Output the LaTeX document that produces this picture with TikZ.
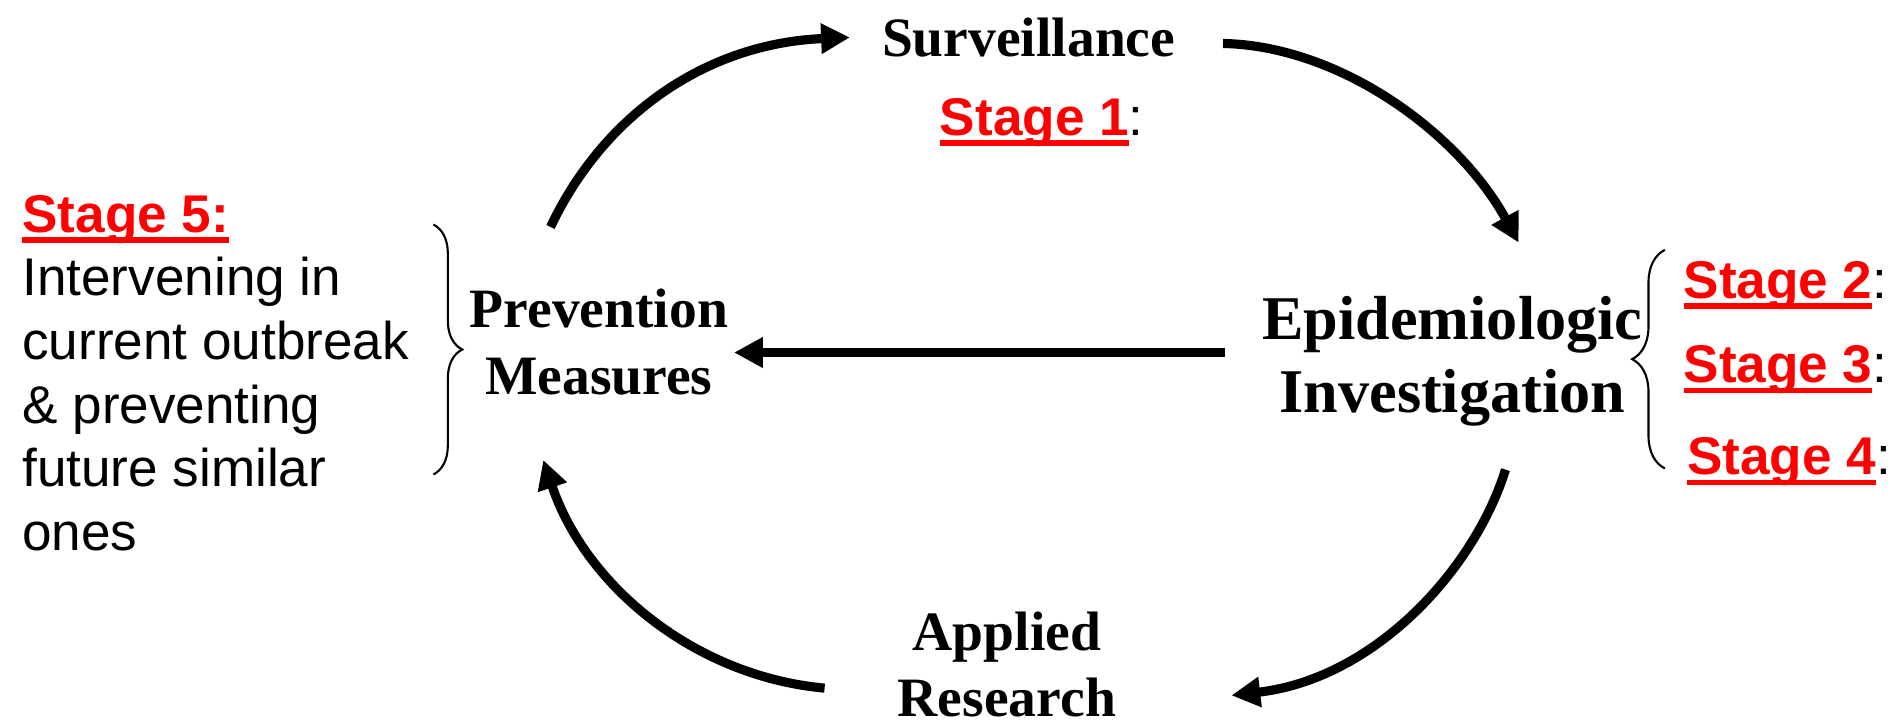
\documentclass[tikz,border=0pt]{standalone}
\usepackage{fontspec}
\setmainfont{Liberation Serif}
\setsansfont{Liberation Sans}
\usetikzlibrary{arrows.meta,decorations.pathreplacing}
\newcommand{\stage}[1]{{\color{red}\bfseries\setbox0\hbox{#1}\rlap{\rule[-3pt]{\wd0}{1.5pt}}\box0}}
\tikzset{
  phase/.style={font=\bfseries\fontsize{15.8}{19}\selectfont, align=center, inner sep=0pt},
  bigphase/.style={phase, font=\bfseries\fontsize{17.7}{20.6}\selectfont},
  note/.style={font=\sffamily\fontsize{15.1}{18.1}\selectfont, align=left, inner sep=0pt},
  cycle/.style={line width=2.6pt, -{Triangle[length=8.2pt,width=8.2pt]}},
  curly/.style={decorate, decoration={brace, amplitude=#1}, line width=0.6pt}
}
\begin{document}
\begin{tikzpicture}[x=0.012073cm, y=-0.012073cm]
\useasboundingbox (0,0) rectangle (1568,601.3);
% stages of the cycle
\node[phase, anchor=base] (surv) at (852,47) {Surveillance};
\node[phase, anchor=north] (prev) at (496,239) {Prevention\\Measures};
\node[bigphase, anchor=north] (epi) at (1203,245) {Epidemiologic\\Investigation};
\node[phase, anchor=north] (appl) at (834,506) {Applied\\Research};
% stage labels
\node[note, anchor=base west] (st1) at (778,112) {\stage{Stage 1}:};
\node[note, anchor=base west] (st2) at (1394,247) {\stage{Stage 2}:};
\node[note, anchor=base west] (st3) at (1394,317) {\stage{Stage 3}:};
\node[note, anchor=base west] (st4) at (1397,393) {\stage{Stage 4}:};
\node[note, anchor=north west] (st5) at (18,161) {\stage{Stage 5:}\\Intervening in\\current outbreak\\\& preventing\\future similar\\ones};
% braces
\draw[curly=8.2pt] (359,186) -- (359,393);
\draw[curly=9.3pt] (1379,388) -- (1379,207);
% arrow ends
\coordinate (prevUp) at (456,188);
\coordinate (survIn) at (704,31);
\coordinate (survOut) at (1013,36);
\coordinate (epiIn) at (1258,201);
\coordinate (epiOut) at (1015,292);
\coordinate (prevIn) at (608,292);
\coordinate (epiDown) at (1247,389);
\coordinate (applIn) at (1020,576);
\coordinate (applOut) at (683,570);
\coordinate (prevDown) at (450,381);
\draw[cycle] (prevUp) .. controls (500,95) and (585,36) .. (survIn);
\draw[cycle] (survOut) .. controls (1110,38) and (1208,110) .. (epiIn);
\draw[cycle] (epiOut) -- (prevIn);
\draw[cycle] (epiDown) .. controls (1222,470) and (1140,562) .. (applIn);
\draw[cycle] (applOut) .. controls (575,560) and (485,485) .. (prevDown);
\end{tikzpicture}
\end{document}
